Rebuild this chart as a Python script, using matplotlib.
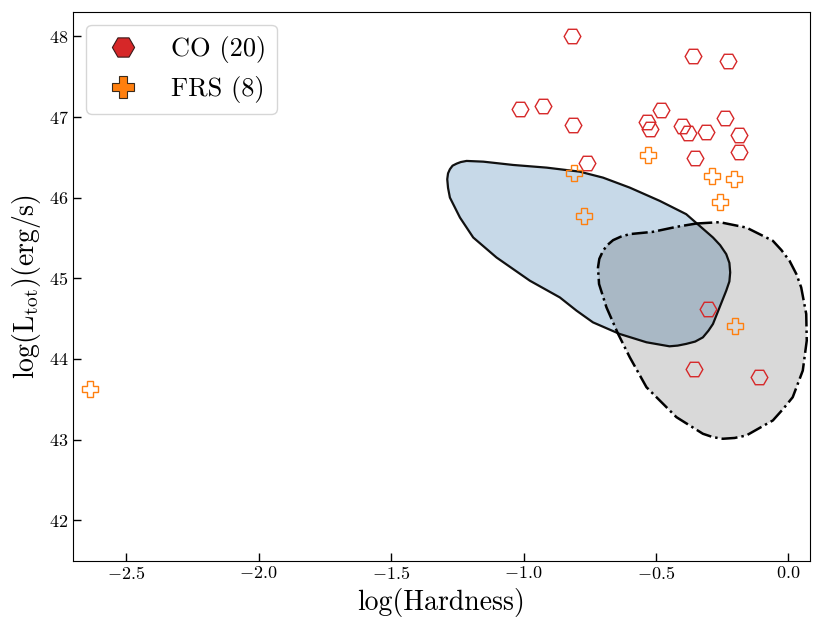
import matplotlib.pyplot as plt
from matplotlib.lines import Line2D
from matplotlib.patches import Polygon

# CO sources (log hardness, log L_tot)
co_hardness = [-0.816, -0.361, -0.227, -1.014, -0.928, -0.812, -0.480, -0.533, -0.521, -0.402,
               -0.381, -0.313, -0.241, -0.187, -0.185, -0.354, -0.761, -0.305, -0.357, -0.112]
co_lum = [48.00, 47.75, 47.69, 47.10, 47.14, 46.90, 47.08, 46.94, 46.85, 46.89,
          46.80, 46.81, 46.98, 46.77, 46.57, 46.49, 46.43, 44.62, 43.87, 43.77]

# FRS sources
frs_hardness = [-0.811, -0.531, -0.289, -0.205, -0.260, -0.770, -0.201, -2.636]
frs_lum = [46.30, 46.53, 46.27, 46.23, 45.95, 45.77, 44.41, 43.63]

# outline of the blue (solid) contour
blue_x = [-1.288, -1.285, -1.278, -1.268, -1.253, -1.237, -1.215, -1.152, -1.039, -0.913,
          -0.788, -0.700, -0.599, -0.486, -0.386, -0.285, -0.258, -0.235, -0.223, -0.220,
          -0.223, -0.235, -0.260, -0.285, -0.302, -0.323, -0.352, -0.386, -0.418, -0.449,
          -0.536, -0.637, -0.738, -0.800, -0.863, -0.976, -1.102, -1.190, -1.240, -1.278,
          -1.285]
blue_y = [46.227, 46.300, 46.351, 46.395, 46.420, 46.440, 46.454, 46.445, 46.404, 46.371,
          46.321, 46.247, 46.123, 45.959, 45.794, 45.505, 45.410, 45.299, 45.190, 45.072,
          44.960, 44.845, 44.639, 44.433, 44.350, 44.267, 44.215, 44.186, 44.165, 44.156,
          44.206, 44.309, 44.453, 44.598, 44.762, 44.969, 45.257, 45.505, 45.752, 46.000,
          46.120]

# outline of the grey (dash-dot) contour
grey_x = [-0.348, -0.260, -0.159, -0.059, -0.027, 0.004, 0.030, 0.048, 0.067, 0.069,
          0.054, 0.016, -0.020, -0.059, -0.159, -0.203, -0.248, -0.285, -0.323, -0.423,
          -0.536, -0.599, -0.643, -0.687, -0.715, -0.719, -0.714, -0.700, -0.684, -0.662,
          -0.633, -0.599, -0.512, -0.423]
grey_y = [45.678, 45.695, 45.628, 45.464, 45.350, 45.216, 45.050, 44.886, 44.557, 44.227,
          43.855, 43.525, 43.380, 43.237, 43.051, 43.020, 43.010, 43.030, 43.072, 43.278,
          43.649, 44.020, 44.309, 44.639, 44.928, 45.133, 45.240, 45.340, 45.410, 45.472,
          45.515, 45.547, 45.575, 45.637]

labels = ["CO (20)", "FRS (8)"]
colors = ["#d62728", "#ff7f0e"]


def main():
    plt.rcParams['font.family'] = 'serif'
    plt.rcParams['font.serif'] = ['cmr10']
    plt.rcParams['mathtext.fontset'] = 'cm'
    plt.rcParams['axes.formatter.use_mathtext'] = True

    fig, ax = plt.subplots(figsize=(8.22, 6.32), dpi=100)
    fig.subplots_adjust(left=0.089, right=0.985, bottom=0.113, top=0.981)

    # contours
    ax.add_patch(Polygon(list(zip(blue_x, blue_y)), closed=True, facecolor='#4682b4',
                         alpha=0.3, edgecolor='none', zorder=1))
    ax.add_patch(Polygon(list(zip(blue_x, blue_y)), closed=True, fill=False,
                         edgecolor='#111111', linewidth=1.6, joinstyle='round', zorder=1.1))
    ax.add_patch(Polygon(list(zip(grey_x, grey_y)), closed=True, facecolor='black',
                         alpha=0.15, edgecolor='none', zorder=1.2))
    ax.add_patch(Polygon(list(zip(grey_x, grey_y)), closed=True, fill=False,
                         edgecolor='black', linewidth=1.8, linestyle='-.',
                         joinstyle='round', zorder=1.3))

    # sources
    ax.plot(co_hardness, co_lum, linestyle='none', marker='H', markersize=12,
            markerfacecolor='none', markeredgecolor=colors[0], markeredgewidth=1.0, zorder=3)
    ax.plot(frs_hardness, frs_lum, linestyle='none', marker='P', markersize=12,
            markerfacecolor='none', markeredgecolor=colors[1], markeredgewidth=1.0, zorder=3)

    handles = [
        Line2D([], [], linestyle='none', marker='H', markersize=16, markerfacecolor=colors[0],
               markeredgecolor='#3a1a1a', markeredgewidth=0.8),
        Line2D([], [], linestyle='none', marker='P', markersize=16, markerfacecolor=colors[1],
               markeredgecolor='#3a2a1a', markeredgewidth=0.8),
    ]
    ax.legend(handles, labels, loc='upper left', fontsize=19)

    ax.set_xlim(-2.7, 0.08)
    ax.set_ylim(41.5, 48.3)
    ax.set_xticks([-2.5, -2.0, -1.5, -1.0, -0.5, 0.0])
    ax.set_yticks([42, 43, 44, 45, 46, 47, 48])
    ax.tick_params(direction='in', length=5.5, width=1, labelsize=13)
    ax.set_xlabel("log(Hardness)", fontsize=20)
    ax.set_ylabel(r"log(L$_{\rm tot}$)(erg/s)", fontsize=20)

    plt.savefig("out.png")


if __name__ == "__main__":
    main()
